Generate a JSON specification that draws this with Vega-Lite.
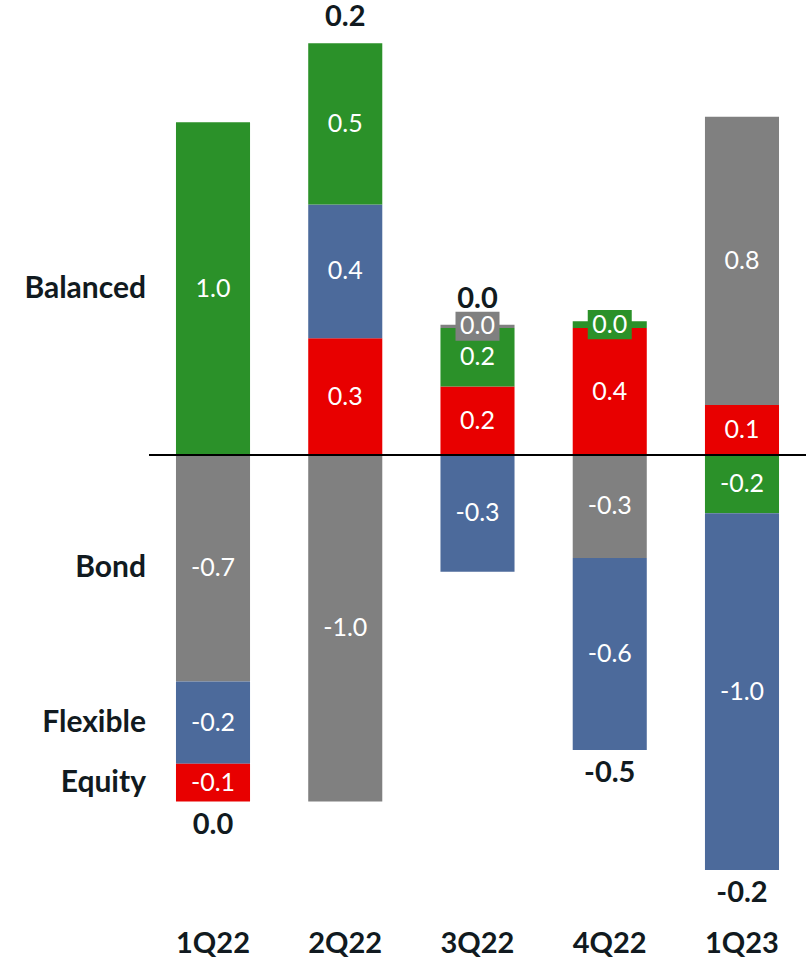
{
  "$schema": "https://vega.github.io/schema/vega-lite/v6.json",
  "width": 657,
  "height": 892,
  "autosize": {"type": "none"},
  "padding": {"left": 149, "top": 9, "right": 0, "bottom": 59},
  "background": "white",
  "config": {
    "view": {"stroke": null},
    "font": "Lato",
    "locale": {"number": {"decimal": ".", "thousands": ",", "grouping": [3], "currency": ["$", ""], "minus": "-"}}
  },
  "data": {
    "values": [
      {"q": "1Q22", "s": "Balanced", "stack_rank": 3, "v": 0.97},
      {"q": "1Q22", "s": "Bond", "stack_rank": 4, "v": -0.66},
      {"q": "1Q22", "s": "Flexible", "stack_rank": 2, "v": -0.24},
      {"q": "1Q22", "s": "Equity", "stack_rank": 1, "v": -0.11},
      {"q": "2Q22", "s": "Equity", "stack_rank": 1, "v": 0.34},
      {"q": "2Q22", "s": "Flexible", "stack_rank": 2, "v": 0.39},
      {"q": "2Q22", "s": "Balanced", "stack_rank": 3, "v": 0.47},
      {"q": "2Q22", "s": "Bond", "stack_rank": 4, "v": -1.01},
      {"q": "3Q22", "s": "Equity", "stack_rank": 1, "v": 0.2},
      {"q": "3Q22", "s": "Balanced", "stack_rank": 3, "v": 0.17},
      {"q": "3Q22", "s": "Bond", "stack_rank": 4, "v": 0.01},
      {"q": "3Q22", "s": "Flexible", "stack_rank": 2, "v": -0.34},
      {"q": "4Q22", "s": "Equity", "stack_rank": 1, "v": 0.37},
      {"q": "4Q22", "s": "Balanced", "stack_rank": 3, "v": 0.02},
      {"q": "4Q22", "s": "Bond", "stack_rank": 4, "v": -0.3},
      {"q": "4Q22", "s": "Flexible", "stack_rank": 2, "v": -0.56},
      {"q": "1Q23", "s": "Equity", "stack_rank": 1, "v": 0.146},
      {"q": "1Q23", "s": "Bond", "stack_rank": 4, "v": 0.84},
      {"q": "1Q23", "s": "Balanced", "stack_rank": 3, "v": -0.17},
      {"q": "1Q23", "s": "Flexible", "stack_rank": 2, "v": -1.04}
    ]
  },
  "layer": [
    {
      "transform": [{"filter": "datum.v > 0"}],
      "encoding": {
        "x": {"field": "q", "type": "nominal", "sort": ["1Q22", "2Q22", "3Q22", "4Q22", "1Q23"], "scale": {"type": "band", "paddingInner": 0.44, "paddingOuter": 0.204},
              "axis": {"title": null, "domain": false, "ticks": false, "labelAngle": 0, "labelFont": "Lato", "labelFontSize": 29, "labelFontWeight": "bold", "labelColor": "#111a20", "labelPadding": 28}},
        "y": {"field": "v", "type": "quantitative", "stack": "zero", "scale": {"domain": [-1.3, 1.3], "nice": false}, "axis": null},
        "order": {"field": "stack_rank", "sort": "ascending"}
      },
      "layer": [
        {
          "mark": {"type": "bar"},
          "encoding": {
            "color": {"field": "s", "type": "nominal", "scale": {"domain": ["Equity", "Flexible", "Balanced", "Bond"], "range": ["#e80000", "#4c6a9b", "#2b9129", "#808080"]}, "legend": null}
          }
        },
        {
          "mark": {"type": "point", "shape": "M-1,-0.66H1V0.66H-1Z", "size": 1936, "filled": true},
          "encoding": {
            "y": {"field": "v", "type": "quantitative", "stack": "zero", "bandPosition": 0.5, "scale": {"domain": [-1.3, 1.3], "nice": false}, "axis": null},
            "color": {"field": "s", "type": "nominal", "scale": {"domain": ["Equity", "Flexible", "Balanced", "Bond"], "range": ["#e80000", "#4c6a9b", "#2b9129", "#808080"]}, "legend": null},
            "opacity": {"condition": {"test": "abs(datum.v) < 0.05", "value": 1}, "value": 0}
          }
        },
        {
          "mark": {"type": "text", "color": "white", "fontSize": 25, "baseline": "middle", "align": "center"},
          "encoding": {
            "y": {"field": "v", "type": "quantitative", "stack": "zero", "bandPosition": 0.5, "scale": {"domain": [-1.3, 1.3], "nice": false}, "axis": null},
            "text": {"field": "v", "type": "quantitative", "format": ".1f"}
          }
        },
        {
          "transform": [{"filter": "datum.q === '1Q22'"}],
          "mark": {"type": "text", "align": "right", "baseline": "middle", "fontSize": 30, "fontWeight": "bold", "color": "#111a20", "dx": -30},
          "encoding": {
            "x": {"field": "q", "type": "nominal", "bandPosition": 0, "sort": ["1Q22", "2Q22", "3Q22", "4Q22", "1Q23"], "scale": {"type": "band", "paddingInner": 0.44, "paddingOuter": 0.204}},
            "y": {"field": "v", "type": "quantitative", "stack": "zero", "bandPosition": 0.5, "scale": {"domain": [-1.3, 1.3], "nice": false}, "axis": null},
            "text": {"field": "s", "type": "nominal"}
          }
        }
      ]
    },
    {
      "transform": [{"filter": "datum.v < 0"}],
      "encoding": {
        "x": {"field": "q", "type": "nominal", "sort": ["1Q22", "2Q22", "3Q22", "4Q22", "1Q23"], "scale": {"type": "band", "paddingInner": 0.44, "paddingOuter": 0.204}},
        "y": {"field": "v", "type": "quantitative", "stack": "zero", "scale": {"domain": [-1.3, 1.3], "nice": false}, "axis": null},
        "order": {"field": "stack_rank", "sort": "descending"}
      },
      "layer": [
        {
          "mark": {"type": "bar"},
          "encoding": {
            "color": {"field": "s", "type": "nominal", "scale": {"domain": ["Equity", "Flexible", "Balanced", "Bond"], "range": ["#e80000", "#4c6a9b", "#2b9129", "#808080"]}, "legend": null}
          }
        },
        {
          "mark": {"type": "text", "color": "white", "fontSize": 25, "baseline": "middle", "align": "center"},
          "encoding": {
            "y": {"field": "v", "type": "quantitative", "stack": "zero", "bandPosition": 0.5, "scale": {"domain": [-1.3, 1.3], "nice": false}, "axis": null},
            "text": {"field": "v", "type": "quantitative", "format": ".1f"}
          }
        },
        {
          "transform": [{"filter": "datum.q === '1Q22'"}],
          "mark": {"type": "text", "align": "right", "baseline": "middle", "fontSize": 30, "fontWeight": "bold", "color": "#111a20", "dx": -30},
          "encoding": {
            "x": {"field": "q", "type": "nominal", "bandPosition": 0, "sort": ["1Q22", "2Q22", "3Q22", "4Q22", "1Q23"], "scale": {"type": "band", "paddingInner": 0.44, "paddingOuter": 0.204}},
            "y": {"field": "v", "type": "quantitative", "stack": "zero", "bandPosition": 0.5, "scale": {"domain": [-1.3, 1.3], "nice": false}, "axis": null},
            "text": {"field": "s", "type": "nominal"}
          }
        }
      ]
    },
    {
      "mark": {"type": "rule", "color": "#000000", "strokeWidth": 2},
      "encoding": {
        "y": {"datum": 0, "type": "quantitative", "scale": {"domain": [-1.3, 1.3], "nice": false}, "axis": null}
      }
    },
    {
      "transform": [
        {"joinaggregate": [{"op": "sum", "field": "v", "as": "net"}], "groupby": ["q"]},
        {"filter": "datum.net >= 0 && datum.v > 0"},
        {"aggregate": [{"op": "sum", "field": "v", "as": "top"}, {"op": "max", "field": "net", "as": "total"}], "groupby": ["q"]}
      ],
      "mark": {"type": "text", "baseline": "alphabetic", "align": "center", "dy": -17, "fontSize": 29, "fontWeight": "bold", "color": "#111a20"},
      "encoding": {
        "x": {"field": "q", "type": "nominal", "sort": ["1Q22", "2Q22", "3Q22", "4Q22", "1Q23"], "scale": {"type": "band", "paddingInner": 0.44, "paddingOuter": 0.204}},
        "y": {"field": "top", "type": "quantitative", "scale": {"domain": [-1.3, 1.3], "nice": false}, "axis": null},
        "text": {"field": "total", "type": "quantitative", "format": ".1f"}
      }
    },
    {
      "transform": [
        {"joinaggregate": [{"op": "sum", "field": "v", "as": "net"}], "groupby": ["q"]},
        {"filter": "datum.net < 0 && datum.v < 0"},
        {"aggregate": [{"op": "sum", "field": "v", "as": "bottom"}, {"op": "max", "field": "net", "as": "total"}], "groupby": ["q"]}
      ],
      "mark": {"type": "text", "baseline": "top", "align": "center", "dy": 9, "fontSize": 29, "fontWeight": "bold", "color": "#111a20"},
      "encoding": {
        "x": {"field": "q", "type": "nominal", "sort": ["1Q22", "2Q22", "3Q22", "4Q22", "1Q23"], "scale": {"type": "band", "paddingInner": 0.44, "paddingOuter": 0.204}},
        "y": {"field": "bottom", "type": "quantitative", "scale": {"domain": [-1.3, 1.3], "nice": false}, "axis": null},
        "text": {"field": "total", "type": "quantitative", "format": ".1f"}
      }
    }
  ]
}
